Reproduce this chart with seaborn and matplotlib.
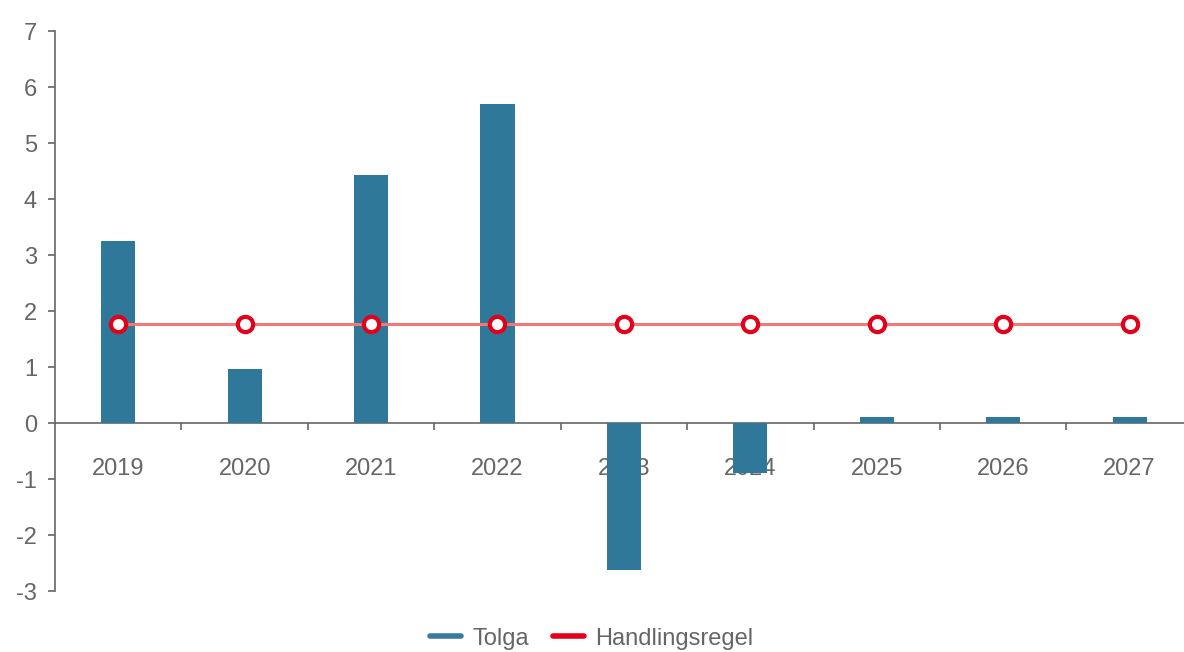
import pandas as pd
import matplotlib
matplotlib.use('Agg')
import matplotlib.pyplot as plt
from matplotlib.lines import Line2D
import seaborn as sns

# Chart data
years = ['2019', '2020', '2021', '2022', '2023', '2024', '2025', '2026', '2027']
tolga = [3.25, 0.97, 4.43, 5.69, -2.62, -0.89, 0.11, 0.11, 0.11]
handlingsregel = [1.77, 1.77, 1.77, 1.77, 1.77, 1.77, 1.77, 1.77, 1.77]
y_ticks = [-3, -2, -1, 0, 1, 2, 3, 4, 5, 6, 7]

bar_color = '#2f7899'
line_color = '#f27878'
marker_edge = '#e3001b'
grey = '#666666'

sns.set_theme(style='white')
plt.rcParams['font.family'] = ['Liberation Sans', 'DejaVu Sans']

df = pd.DataFrame({'year': years, 'Tolga': tolga, 'Handlingsregel': handlingsregel})

fig = plt.figure(figsize=(11.84, 6.52), dpi=100)
ax = fig.add_axes([55 / 1184, 1 - 591 / 652, 1 - 55 / 1184, (591 - 31) / 652])

sns.barplot(data=df, x='year', y='Tolga', color=bar_color, width=0.27,
            saturation=1, ax=ax, zorder=3, linewidth=0, edgecolor=bar_color)
sns.pointplot(data=df, x='year', y='Handlingsregel', color=line_color, ax=ax,
              markers='o', markersize=11, markerfacecolor='white',
              markeredgecolor=marker_edge, markeredgewidth=3, linewidth=2.2,
              zorder=4)

ax.set_xlim(-0.5, 8.43)
ax.set_ylim(-3, 7)
ax.set_yticks(y_ticks)
ax.set_yticklabels([str(t) for t in y_ticks])
ax.set_xlabel('')
ax.set_ylabel('')

# spines: left axis and zero line
for side in ['top', 'right']:
    ax.spines[side].set_visible(False)
ax.spines['bottom'].set_position(('data', 0))
ax.spines['bottom'].set_color(grey)
ax.spines['left'].set_color(grey)
ax.spines['bottom'].set_linewidth(1.2)
ax.spines['left'].set_linewidth(1.2)

# x tick marks between categories, labels at category centres
ax.set_xticks([i + 0.5 for i in range(len(years) - 1)], minor=True)
ax.tick_params(axis='x', which='major', length=0, pad=25, labelsize=17,
               labelcolor=grey)
ax.tick_params(axis='x', which='minor', length=5, width=1.2, color=grey,
               direction='out', bottom=True)
ax.tick_params(axis='y', length=5, width=1.2, color=grey, labelsize=17,
               labelcolor=grey, left=True, pad=8)
ax.xaxis.set_zorder(1)

handles = [Line2D([0], [0], color='#3a7a9c', lw=4),
           Line2D([0], [0], color='#e3001b', lw=4)]
fig.legend(handles, ['Tolga', 'Handlingsregel'], loc='lower center',
           bbox_to_anchor=(0.5, -0.029), ncol=2, frameon=False, fontsize=17,
           labelcolor=grey, handlelength=1.3, handletextpad=0.5,
           columnspacing=1.0)

fig.savefig('out.png', dpi=100)
